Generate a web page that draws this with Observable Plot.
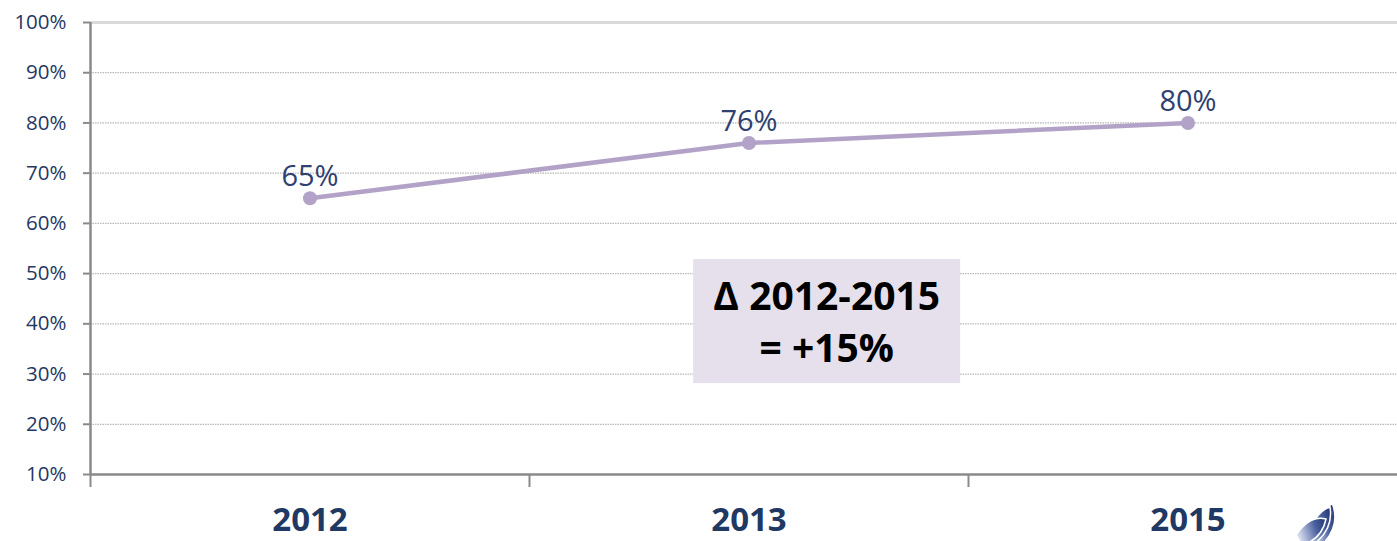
<!DOCTYPE html>
<html>
<head>
<meta charset="utf-8">
<script src="https://cdn.jsdelivr.net/npm/d3@7"></script>
<script src="https://cdn.jsdelivr.net/npm/@observablehq/plot@0.6"></script>
<style>
  html, body { margin: 0; padding: 0; background: #fff; }
  #chart { position: relative; width: 1397px; height: 541px; overflow: hidden; }
</style>
</head>
<body>
<div id="chart"></div>
<script>
// ---- data ----
const years = ["2012", "2013", "2015"];
const values = [65, 76, 80];
const yTicks = [10, 20, 30, 40, 50, 60, 70, 80, 90, 100];
const gridValues = [20, 30, 40, 50, 60, 70, 80, 90];
const topValue = [100];
const boxLines = ["Δ 2012-2015", "= +15%"];

const data = years.map((y, i) => ({year: y, idx: i + 0.5, value: values[i]}));
const boxes = [{x1: 1.374, x2: 1.982, y1: 28.1, y2: 52.8}];
const boxText = [
  {text: boxLines[0], x: 1.677, y: 42.85},
  {text: boxLines[1], x: 1.677, y: 32.5}
];

const navy = "#1f3864";
const axisGray = "#8a8a8a";

const plot = Plot.plot({
  width: 1397,
  height: 541,
  marginTop: 22,
  marginBottom: 67,
  marginLeft: 90,
  marginRight: 0,
  style: {fontFamily: "'Open Sans', sans-serif", background: "#fff", overflow: "visible"},
  x: {domain: [0, 3], range: [90, 1407]},
  y: {domain: [10, 100]},
  marks: [
    Plot.ruleY(gridValues, {stroke: "#b8b8b8", strokeWidth: 1.2, strokeDasharray: "1.5,1"}),
    Plot.ruleY(topValue, {stroke: "#d9d9d9", strokeWidth: 3}),
    Plot.rect(boxes, {x1: "x1", x2: "x2", y1: "y1", y2: "y2", fill: "#e5e0ec"}),
    Plot.text(boxText, {x: "x", y: "y", text: "text", lineAnchor: "bottom", fontSize: 39, fontWeight: "bold", fill: "#000"}),
    Plot.line(data, {x: "idx", y: "value", stroke: "#b3a2c7", strokeWidth: 4.5}),
    Plot.dot(data, {x: "idx", y: "value", r: 7, fill: "#b3a2c7", stroke: "none"}),
    Plot.text(data, {x: "idx", y: "value", text: d => d.value + "%", dy: -12, lineAnchor: "bottom", fontSize: 29, fill: "#2e4170"}),
    Plot.axisY({ticks: yTicks, tickFormat: d => d + "%", tickSize: 7, tickPadding: 17, fontSize: 20.5, fill: navy, stroke: axisGray, strokeWidth: 2, label: null}),
    Plot.ruleX([0], {stroke: axisGray, strokeWidth: 2.5}),
    Plot.ruleY([10], {stroke: axisGray, strokeWidth: 2.5}),
    Plot.axisX({ticks: [0, 1, 2, 3], tickFormat: () => "", tickSize: 13, stroke: axisGray, strokeWidth: 2, label: null}),
    Plot.axisX({ticks: data.map(d => d.idx), tickFormat: (d, i) => years[i], tickSize: 0, tickPadding: 33, fontSize: 33, fontWeight: "bold", fill: navy, label: null})
  ]
});
document.getElementById("chart").appendChild(plot);

// decorative logo (bottom-right)
const svg = d3.select(plot);
const defs = svg.append("defs");
const grad = defs.append("linearGradient").attr("id", "lg").attr("x1", "0").attr("y1", "0.3").attr("x2", "1").attr("y2", "0");
grad.append("stop").attr("offset", "0").attr("stop-color", "#d6dcee");
grad.append("stop").attr("offset", "0.6").attr("stop-color", "#4a5f9e");
grad.append("stop").attr("offset", "1").attr("stop-color", "#1f3470");
const g = svg.append("g").attr("transform", "translate(1296,541)");
[
  {d: "M0,-6 Q14,-26 30,-22 Q26,-2 6,4 Z"},
  {d: "M8,0 Q20,-30 34,-34 Q38,-10 14,6 Z"},
  {d: "M16,2 Q28,-30 36,-38 Q46,-14 22,8 Z"}
].reverse().forEach(b => g.append("path").attr("d", b.d).attr("fill", "url(#lg)").attr("stroke", "#fff").attr("stroke-width", 1.5));
</script>
</body>
</html>
